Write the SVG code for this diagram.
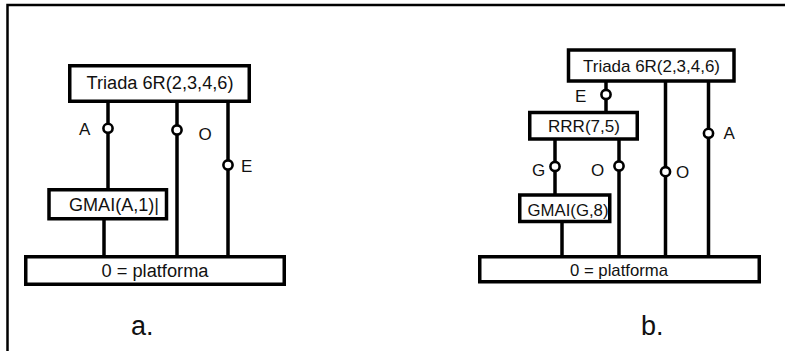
<svg xmlns="http://www.w3.org/2000/svg" width="785" height="351" viewBox="0 0 785 351">
<style>
.box{fill:#fff;stroke:#000;stroke-width:3.5}
.ln{stroke:#000;stroke-width:3.5;fill:none}
.j{fill:#fff;stroke:#000;stroke-width:2.6}
text{font-family:"Liberation Sans",Arial,sans-serif;fill:#111}
.t{font-size:18px;text-anchor:middle}
.tb{font-size:17px;text-anchor:middle}
.lb{font-size:17px}
.cap{font-size:27px}
</style>
<rect width="785" height="351" fill="#fff"/>
<path d="M7.5,351 V5 H785" fill="none" stroke="#000" stroke-width="2.5"/>

<g id="connectors">
  <!-- a -->
  <line class="ln" x1="108" y1="102" x2="108" y2="189"/>
  <line class="ln" x1="104" y1="220" x2="104" y2="256"/>
  <line class="ln" x1="177" y1="102" x2="177" y2="256"/>
  <line class="ln" x1="228" y1="102" x2="228" y2="256"/>
  <!-- b -->
  <line class="ln" x1="606" y1="82" x2="606" y2="111"/>
  <line class="ln" x1="555" y1="140" x2="555" y2="194"/>
  <line class="ln" x1="619" y1="140" x2="619" y2="256"/>
  <line class="ln" x1="562" y1="223" x2="562" y2="256"/>
  <line class="ln" x1="665.5" y1="82" x2="665.5" y2="256"/>
  <line class="ln" x1="708.5" y1="82" x2="708.5" y2="256"/>
  <!-- joints -->
  <circle class="j" cx="108" cy="128.3" r="4.6"/>
  <circle class="j" cx="177" cy="130" r="4.6"/>
  <circle class="j" cx="228" cy="165" r="4.6"/>
  <circle class="j" cx="606" cy="94.5" r="4.6"/>
  <circle class="j" cx="555" cy="166.5" r="4.6"/>
  <circle class="j" cx="619" cy="166" r="4.6"/>
  <circle class="j" cx="665.5" cy="171.7" r="4.6"/>
  <circle class="j" cx="708.5" cy="133.3" r="4.6"/>
  <text class="lb" x="79" y="135">A</text>
  <text class="lb" x="198.5" y="140">O</text>
  <text class="lb" x="241" y="171.5">E</text>
  <text class="lb" x="575" y="101.5">E</text>
  <text class="lb" x="532" y="176">G</text>
  <text class="lb" x="591" y="176">O</text>
  <text class="lb" x="676" y="178">O</text>
  <text class="lb" x="723.5" y="139">A</text>
</g>

<g id="a-triada">
  <rect class="box" x="69.75" y="65.75" width="179.5" height="35.5"/>
  <text class="t" x="160" y="89" textLength="147" lengthAdjust="spacingAndGlyphs">Triada 6R(2,3,4,6)</text>
</g>
<g id="a-gmai">
  <rect class="box" x="49" y="189.75" width="117.5" height="29"/>
  <text class="lb" x="69" y="210.5" style="font-size:17.5px" textLength="90" lengthAdjust="spacingAndGlyphs">GMAI(A,1)|</text>
</g>
<g id="a-platforma">
  <rect class="box" x="25.75" y="256.75" width="258.5" height="27.5"/>
  <text class="t" x="155" y="276.5" textLength="107" lengthAdjust="spacingAndGlyphs">0 = platforma</text>
</g>
<text class="cap" x="131" y="335">a.</text>

<g id="b-triada">
  <rect class="box" x="568.5" y="50" width="165.5" height="31"/>
  <text class="tb" x="651.5" y="71.5" textLength="137" lengthAdjust="spacingAndGlyphs">Triada 6R(2,3,4,6)</text>
</g>
<g id="b-rrr">
  <rect class="box" x="529.75" y="112.5" width="107.5" height="26.5"/>
  <text class="tb" x="584" y="131.5" textLength="72" lengthAdjust="spacingAndGlyphs">RRR(7,5)</text>
</g>
<g id="b-gmai">
  <rect class="box" x="519.75" y="195" width="90" height="26.5"/>
  <text class="lb" x="527.5" y="216" textLength="81" lengthAdjust="spacingAndGlyphs">GMAI(G,8)</text>
</g>
<g id="b-platforma">
  <rect class="box" x="479.75" y="256.75" width="279.5" height="25"/>
  <text class="tb" x="619" y="275.5" textLength="98" lengthAdjust="spacingAndGlyphs">0 = platforma</text>
</g>
<text class="cap" x="641" y="335">b.</text>
</svg>
